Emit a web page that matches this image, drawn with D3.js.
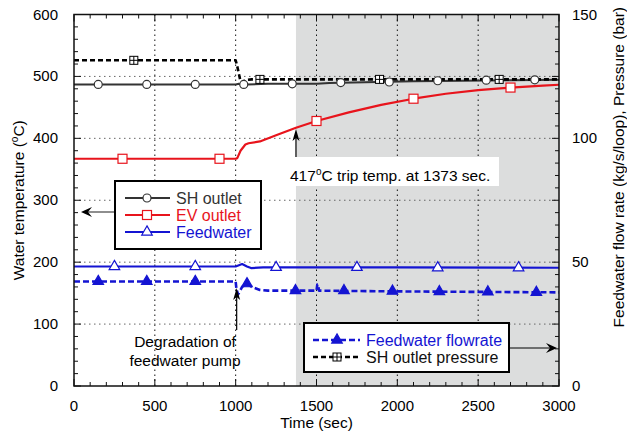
<!DOCTYPE html>
<html>
<head>
<meta charset="utf-8">
<script src="https://cdn.jsdelivr.net/npm/d3@7"></script>
<style>
    body { margin: 0; background: #fff; }
    svg { font-family: "Liberation Sans", Arial, sans-serif; }
</style>
</head>
<body>
<div id="chart"></div>
<script>
// SH outlet temperature (degC)
const shTime = [0, 1000, 1020, 1040, 1070, 1200, 1500, 1580, 1800, 2100, 2400, 2700, 3000];
const shTemp = [487, 487, 488, 486, 487, 488, 488, 489.5, 490.5, 492, 493, 494, 494.5];
const shMarkTime = [150, 450, 750, 1050, 1350, 1650, 1950, 2250, 2550, 2850];
const shMarkTemp = [487, 487, 487, 487, 488, 490, 491, 493, 494, 494.5];

// EV outlet temperature (degC)
const evTime = [0, 1000, 1010, 1030, 1060, 1080, 1150, 1250, 1373, 1500, 1700, 1900, 2100, 2300, 2500, 2700, 2900, 3000];
const evTemp = [367, 367, 368, 380, 390, 392, 395, 405, 417, 428, 442, 454, 464, 472, 478, 482, 485, 486.5];
const evMarkTime = [300, 900, 1500, 2100, 2700];
const evMarkTemp = [367, 367, 428, 464, 482];

// Feedwater temperature (degC)
const fwTime = [0, 1000, 1040, 1070, 1095, 1170, 2000, 3000];
const fwTemp = [193, 193, 197, 193, 190.5, 191.5, 191.5, 191];
const fwMarkTime = [250, 750, 1250, 1750, 2250, 2750];
const fwMarkTemp = [193, 193, 191.5, 191.5, 191, 191];

// Feedwater flowrate (kg/s/loop), right axis
const flowTime = [0, 1000, 1005, 1015, 1040, 1070, 1100, 1150, 1200, 1500, 1505, 1510, 1515, 2000, 2500, 3000];
const flowRate = [42.2, 42.2, 39, 37, 40, 41.3, 40, 38.8, 38.5, 38.5, 41, 41, 38.5, 38.2, 38, 37.8];
const flowMarkTime = [150, 450, 750, 1070, 1370, 1670, 1970, 2260, 2560, 2860];
const flowMarkRate = [42.2, 42.2, 42.2, 41.3, 38.5, 38.5, 38.3, 38.1, 38, 37.8];

// SH outlet pressure (bar), right axis
const prTime = [0, 1000, 1010, 1030, 1040, 1060, 1100, 3000];
const prValue = [131.5, 131.5, 129, 123, 122.5, 123.5, 123.8, 123.8];
const prMarkTime = [370, 1150, 1890, 2630];
const prMarkValue = [131.5, 123.8, 123.8, 123.8];

const xTicks = [0, 500, 1000, 1500, 2000, 2500, 3000];
const yLeftTicks = [0, 100, 200, 300, 400, 500, 600];
const yRightTicks = [0, 50, 100, 150];
const tripTime = 1373;

const width = 627;
const height = 434;
const plot = { left: 74, right: 559, top: 14.5, bottom: 386 };

const RED = "#e8141c";
const BLUE = "#1414d2";
const DARK = "#333";

const svg = d3.select("#chart").append("svg")
    .attr("width", width)
    .attr("height", height);

const x = d3.scaleLinear().domain([0, 3000]).range([plot.left, plot.right]);
const yL = d3.scaleLinear().domain([0, 600]).range([plot.bottom, plot.top]);
const yR = d3.scaleLinear().domain([0, 150]).range([plot.bottom, plot.top]);

// shaded region after trip
svg.append("rect")
    .attr("x", x(tripTime))
    .attr("y", plot.top)
    .attr("width", x(3000) - x(tripTime))
    .attr("height", plot.bottom - plot.top)
    .attr("fill", "#dcdddd");

// grid
svg.append("g").selectAll("line")
    .data(xTicks.slice(1, -1))
    .enter().append("line")
    .attr("x1", d => x(d)).attr("x2", d => x(d))
    .attr("y1", plot.top).attr("y2", plot.bottom)
    .attr("stroke", "#111")
    .attr("stroke-width", 1)
    .attr("stroke-dasharray", "1.5,3.5");

svg.append("g").selectAll("line")
    .data(yLeftTicks.slice(1, -1))
    .enter().append("line")
    .attr("x1", plot.left).attr("x2", plot.right)
    .attr("y1", d => yL(d)).attr("y2", d => yL(d))
    .attr("stroke", "#666")
    .attr("stroke-width", 1)
    .attr("stroke-dasharray", "1.5,3.5");

// white box behind trip annotation
svg.append("rect")
    .attr("x", 288).attr("y", 157)
    .attr("width", 211).attr("height", 29)
    .attr("fill", "#fff");

// lines
function drawLine(times, values, yScale, color, widthPx, dash) {
    const line = d3.line()
        .x((d, i) => x(times[i]))
        .y(d => yScale(d));
    svg.append("path")
        .datum(values)
        .attr("d", line)
        .attr("fill", "none")
        .attr("stroke", color)
        .attr("stroke-width", widthPx)
        .attr("stroke-dasharray", dash)
        .attr("stroke-linejoin", "round");
}

drawLine(shTime, shTemp, yL, DARK, 2, null);
drawLine(evTime, evTemp, yL, RED, 2.2, null);
drawLine(fwTime, fwTemp, yL, BLUE, 2.2, null);
drawLine(flowTime, flowRate, yR, BLUE, 2.6, "6,3");
drawLine(prTime, prValue, yR, "#000", 2.6, "5,3");

// markers
function circleMark(g, cx, cy) {
    g.append("circle").attr("cx", cx).attr("cy", cy).attr("r", 4)
        .attr("fill", "#fff").attr("stroke", DARK).attr("stroke-width", 1.2);
}
function squareMark(g, cx, cy) {
    g.append("rect").attr("x", cx - 4.5).attr("y", cy - 4.5).attr("width", 9).attr("height", 9)
        .attr("fill", "#fff").attr("stroke", RED).attr("stroke-width", 1.2);
}
function triMark(g, cx, cy, filled) {
    g.append("path")
        .attr("d", d3.symbol().type(d3.symbolTriangle).size(48)())
        .attr("transform", `translate(${cx},${cy})`)
        .attr("fill", filled ? BLUE : "#fff")
        .attr("stroke", BLUE).attr("stroke-width", 1.2);
}
function plusSquareMark(g, cx, cy) {
    g.append("rect").attr("x", cx - 4).attr("y", cy - 4).attr("width", 8).attr("height", 8)
        .attr("fill", "#fff").attr("stroke", "#000").attr("stroke-width", 1);
    g.append("line").attr("x1", cx - 4).attr("x2", cx + 4).attr("y1", cy).attr("y2", cy)
        .attr("stroke", "#000").attr("stroke-width", 1);
    g.append("line").attr("x1", cx).attr("x2", cx).attr("y1", cy - 4).attr("y2", cy + 4)
        .attr("stroke", "#000").attr("stroke-width", 1);
}

const marks = svg.append("g");
shMarkTime.forEach((t, i) => circleMark(marks, x(t), yL(shMarkTemp[i])));
evMarkTime.forEach((t, i) => squareMark(marks, x(t), yL(evMarkTemp[i])));
fwMarkTime.forEach((t, i) => triMark(marks, x(t), yL(fwMarkTemp[i]), false));
flowMarkTime.forEach((t, i) => triMark(marks, x(t), yR(flowMarkRate[i]), true));
prMarkTime.forEach((t, i) => plusSquareMark(marks, x(t), yR(prMarkValue[i])));

// frame and inward ticks
svg.append("rect")
    .attr("x", plot.left).attr("y", plot.top)
    .attr("width", plot.right - plot.left).attr("height", plot.bottom - plot.top)
    .attr("fill", "none").attr("stroke", "#111").attr("stroke-width", 1.5);

const tickG = svg.append("g").attr("stroke", "#111").attr("stroke-width", 1);
d3.range(0, 3001, 100).forEach(t => {
    const len = t % 500 === 0 ? 7 : 4;
    tickG.append("line").attr("x1", x(t)).attr("x2", x(t)).attr("y1", plot.bottom).attr("y2", plot.bottom - len);
    tickG.append("line").attr("x1", x(t)).attr("x2", x(t)).attr("y1", plot.top).attr("y2", plot.top + len);
});
d3.range(0, 601, 20).forEach(v => {
    const len = v % 100 === 0 ? 7 : 4;
    tickG.append("line").attr("x1", plot.left).attr("x2", plot.left + len).attr("y1", yL(v)).attr("y2", yL(v));
    tickG.append("line").attr("x1", plot.right).attr("x2", plot.right - len).attr("y1", yL(v)).attr("y2", yL(v));
});

// tick labels
svg.append("g").selectAll("text")
    .data(xTicks)
    .enter().append("text")
    .attr("x", d => x(d)).attr("y", 411)
    .attr("text-anchor", "middle")
    .attr("font-size", 15)
    .text(d => d);

svg.append("g").selectAll("text")
    .data(yLeftTicks)
    .enter().append("text")
    .attr("x", 58).attr("y", d => yL(d) + 5)
    .attr("text-anchor", "end")
    .attr("font-size", 15)
    .text(d => d);

svg.append("g").selectAll("text")
    .data(yRightTicks)
    .enter().append("text")
    .attr("x", 572).attr("y", d => yR(d) + 5)
    .attr("font-size", 15)
    .text(d => d);

// axis titles
svg.append("text")
    .attr("x", (plot.left + plot.right) / 2).attr("y", 428)
    .attr("text-anchor", "middle").attr("font-size", 15.5)
    .text("Time (sec)");

const leftTitle = svg.append("text")
    .attr("transform", `translate(24,${(plot.top + plot.bottom) / 2}) rotate(-90)`)
    .attr("text-anchor", "middle").attr("font-size", 15.5);
leftTitle.append("tspan").text("Water temperature (");
leftTitle.append("tspan").attr("font-size", 10).attr("dy", -6).text("o");
leftTitle.append("tspan").attr("dy", 6).text("C)");

svg.append("text")
    .attr("transform", "translate(624,7) rotate(-90)")
    .attr("text-anchor", "end").attr("font-size", 15.5)
    .text("Feedwater flow rate (kg/s/loop), Pressure (bar)");

// annotations
function arrowUp(xPos, yFrom, yTo) {
    svg.append("line").attr("x1", xPos).attr("x2", xPos).attr("y1", yFrom).attr("y2", yTo + 6)
        .attr("stroke", "#000").attr("stroke-width", 1.2);
    svg.append("path")
        .attr("d", `M${xPos},${yTo} L${xPos - 3.5},${yTo + 12} L${xPos},${yTo + 9} L${xPos + 3.5},${yTo + 12} Z`)
        .attr("fill", "#000");
}
arrowUp(x(1000) + 1, 330, 288);
arrowUp(x(tripTime), 157, 129);

const trip = svg.append("text").attr("x", 290).attr("y", 181).attr("font-size", 15.5);
trip.append("tspan").text("417");
trip.append("tspan").attr("font-size", 10).attr("dy", -6).text("o");
trip.append("tspan").attr("dy", 6).text("C trip temp. at 1373 sec.");

svg.append("text").attr("x", 185).attr("y", 347).attr("text-anchor", "middle").attr("font-size", 15.5)
    .text("Degradation of");
svg.append("text").attr("x", 185).attr("y", 366).attr("text-anchor", "middle").attr("font-size", 15.5)
    .text("feedwater pump");

// legend: temperatures
const legTop = svg.append("g");
legTop.append("line").attr("x1", 115).attr("x2", 84).attr("y1", 212).attr("y2", 212)
    .attr("stroke", "#444").attr("stroke-width", 1.2);
legTop.append("path").attr("d", "M92,207 L81,212 L92,217 L88,212 Z").attr("fill", "#000");
legTop.append("rect").attr("x", 115).attr("y", 181).attr("width", 146).attr("height", 68)
    .attr("fill", "#fff").attr("stroke", "#000").attr("stroke-width", 2);

const topItems = [
    { label: "SH outlet", color: DARK, mark: circleMark },
    { label: "EV outlet", color: RED, mark: squareMark },
    { label: "Feedwater", color: BLUE, mark: (g, cx, cy) => triMark(g, cx, cy, false) }
];
topItems.forEach((item, i) => {
    const yy = 198 + i * 17;
    legTop.append("line").attr("x1", 125).attr("x2", 170).attr("y1", yy).attr("y2", yy)
        .attr("stroke", item.color).attr("stroke-width", 2);
    item.mark(legTop, 147, yy);
    legTop.append("text").attr("x", 176).attr("y", yy + 6).attr("font-size", 16)
        .attr("fill", item.color).text(item.label);
});

// legend: flowrate and pressure
const legBot = svg.append("g");
legBot.append("line").attr("x1", 509).attr("x2", 552).attr("y1", 348).attr("y2", 348)
    .attr("stroke", "#000").attr("stroke-width", 1);
legBot.append("path").attr("d", "M546,343 L557,348 L546,353 L550,348 Z").attr("fill", "#000");
legBot.append("rect").attr("x", 304).attr("y", 323).attr("width", 205).attr("height", 49)
    .attr("fill", "#fff").attr("stroke", "#000").attr("stroke-width", 2);

const botItems = [
    { label: "Feedwater flowrate", color: BLUE, dash: "6,3", mark: (g, cx, cy) => triMark(g, cx, cy, true) },
    { label: "SH outlet pressure", color: "#000", dash: "5,3", mark: plusSquareMark }
];
botItems.forEach((item, i) => {
    const yy = 340 + i * 17;
    legBot.append("line").attr("x1", 313).attr("x2", 360).attr("y1", yy).attr("y2", yy)
        .attr("stroke", item.color).attr("stroke-width", 2.6).attr("stroke-dasharray", item.dash);
    item.mark(legBot, 337, yy);
    legBot.append("text").attr("x", 366).attr("y", yy + 6).attr("font-size", 16)
        .attr("fill", item.color === "#000" ? "#111" : item.color).text(item.label);
});
</script>
</body>
</html>
